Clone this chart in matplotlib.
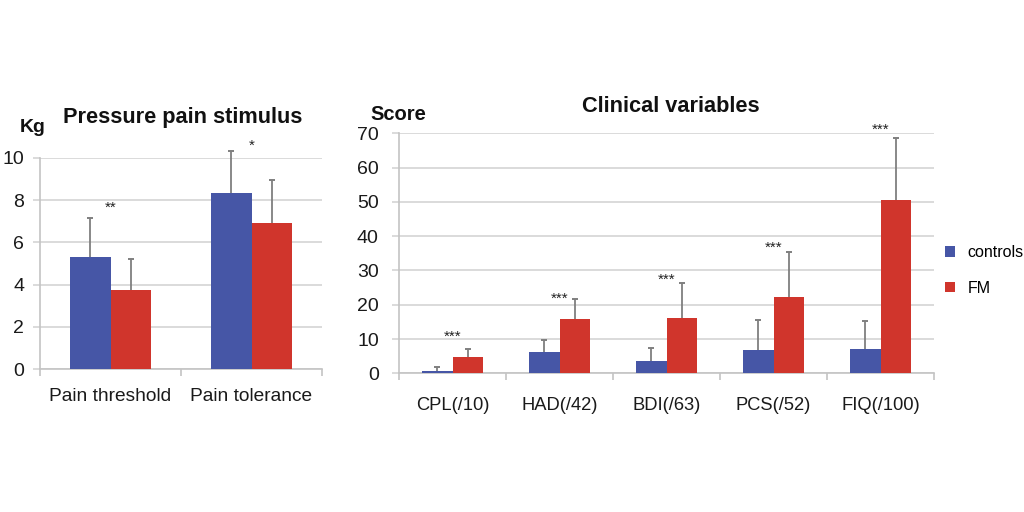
import matplotlib
matplotlib.use("Agg")
import matplotlib.pyplot as plt
import numpy as np
from matplotlib.patches import Patch

plt.rcParams['font.family'] = ['Liberation Sans', 'DejaVu Sans']

# ---- data: pressure pain stimulus (Kg)
pain_categories = ['Pain threshold', 'Pain tolerance']
pain_controls = [5.3, 8.35]
pain_controls_sd = [1.87, 2.0]
pain_fm = [3.73, 6.9]
pain_fm_sd = [1.5, 2.04]
pain_stars = ['**', '*']
pain_star_y = [7.8, 10.77]
pain_yticks = [0, 2, 4, 6, 8, 10]

# ---- data: clinical variables (score)
clin_categories = ['CPL(/10)', 'HAD(/42)', 'BDI(/63)', 'PCS(/52)', 'FIQ(/100)']
clin_controls = [0.76, 6.1, 3.7, 6.8, 7.0]
clin_controls_sd = [1.0, 3.7, 3.6, 8.7, 8.2]
clin_fm = [4.84, 15.8, 16.2, 22.3, 50.5]
clin_fm_sd = [2.16, 5.9, 10.1, 13.1, 18.0]
clin_stars = ['***', '***', '***', '***', '***']
clin_star_y = [11.8, 22.8, 28.2, 37.7, 72.0]
clin_yticks = [0, 10, 20, 30, 40, 50, 60, 70]

series_labels = ['controls', 'FM']

BLUE = '#4656a6'
RED = '#d0352c'
GRID = '#d4d4d4'
SPINE = '#c4c4c4'
ERR = '#7f7f7f'

fig = plt.figure(figsize=(10.24, 5.12), dpi=100)
fig.patch.set_facecolor('white')

ax1 = fig.add_axes([40/1024, 1-369/512, 282/1024, 211/512])
ax2 = fig.add_axes([399/1024, 1-373.3/512, 535/1024, 240/512])

W = 0.285


def upper_err(ax, xs, vals, sds):
    xs = np.asarray(xs, float)
    vals = np.asarray(vals, float)
    tops = vals + np.asarray(sds, float)
    ax.vlines(xs, vals, tops, colors=ERR, linewidth=1.3, zorder=4, clip_on=False)
    ax.plot(xs, tops, linestyle='none', marker='_', markersize=5,
            markeredgewidth=1.4, color=ERR, zorder=4, clip_on=False)


def draw(ax, cats, ctrl, ctrl_sd, fm, fm_sd, stars, star_y, yticks, ylim,
         xlab_pad, xlab_size, ypad):
    x = np.arange(len(cats))
    ax.bar(x - W/2, ctrl, W, color=BLUE, zorder=3)
    ax.bar(x + W/2, fm, W, color=RED, zorder=3)
    upper_err(ax, x - W/2, ctrl, ctrl_sd)
    upper_err(ax, x + W/2, fm, fm_sd)
    for xi, s, yv in zip(x, stars, star_y):
        ax.annotate(s, (xi, yv), xytext=(0, -5.5), textcoords='offset points',
                    ha='center', va='baseline', fontsize=11, color='#222222',
                    annotation_clip=False)
    ax.set_xlim(-0.5, len(cats) - 0.5)
    ax.set_ylim(*ylim)
    ax.set_yticks(yticks)
    ax.yaxis.grid(True, color=GRID, linewidth=1.2, zorder=0)
    ax.set_axisbelow(True)
    ax.set_xticks(x)
    ax.set_xticklabels(cats, fontsize=xlab_size, color='#1a1a1a')
    ax.tick_params(axis='x', length=0, pad=xlab_pad)
    ax.set_xticks(np.arange(len(cats) + 1) - 0.5, minor=True)
    ax.tick_params(axis='x', which='minor', length=5, color=SPINE, width=1.2)
    ax.tick_params(axis='y', length=5, color=GRID, width=1.2, labelsize=14,
                   labelcolor='#1a1a1a', pad=ypad)
    for side in ['top', 'right']:
        ax.spines[side].set_visible(False)
    for side in ['left', 'bottom']:
        ax.spines[side].set_color(SPINE)
        ax.spines[side].set_linewidth(1.2)


draw(ax1, pain_categories, pain_controls, pain_controls_sd, pain_fm, pain_fm_sd,
     pain_stars, pain_star_y, pain_yticks, (0, 10), 14, 13.8, 6.5)
draw(ax2, clin_categories, clin_controls, clin_controls_sd, clin_fm, clin_fm_sd,
     clin_stars, clin_star_y, clin_yticks, (0, 70), 17, 13.2, 9.5)

fig.text(183/1024, 1-117/512, 'Pressure pain stimulus', ha='center', va='center',
         fontsize=15.7, fontweight='bold', color='#111111')
fig.text(20/1024, 1-128/512, 'Kg', ha='left', va='center',
         fontsize=14, fontweight='bold', color='#111111')
fig.text(671/1024, 1-107/512, 'Clinical variables', ha='center', va='center',
         fontsize=15.7, fontweight='bold', color='#111111')
fig.text(370/1024, 1-114/512, 'Score', ha='left', va='center',
         fontsize=14.5, fontweight='bold', color='#111111')

handles = [Patch(facecolor=BLUE, label=series_labels[0]),
           Patch(facecolor=RED, label=series_labels[1])]
fig.legend(handles=handles, loc='center left', bbox_to_anchor=(945/1024, 1-270.5/512),
           frameon=False, fontsize=11.5, handlelength=0.62, handleheight=0.62,
           handletextpad=0.8, labelspacing=1.3, borderpad=0, borderaxespad=0)

fig.savefig('out.png', dpi=100)
